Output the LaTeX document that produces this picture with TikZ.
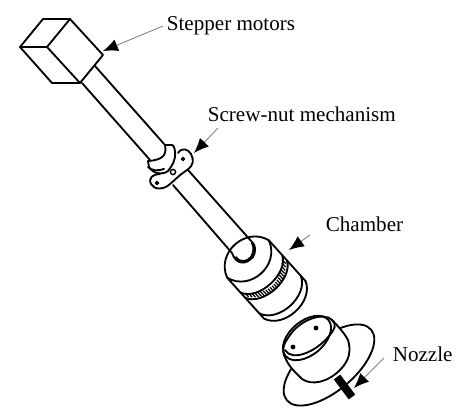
\documentclass[tikz,border=0pt]{standalone}
\usepackage{fontspec}
\setmainfont{Liberation Serif}
\usetikzlibrary{arrows.meta}
\tikzset{
	part/.style={line width=1.05pt, black, line join=round, line cap=round},
	thin part/.style={line width=0.8pt, black},
	callout/.style={-{Latex[length=8.5pt,width=7pt,black]}, gray, line width=0.5pt},
	label text/.style={font=\fontsize{12}{14}\selectfont, inner sep=2pt, anchor=west},
}
\begin{document}
\begin{tikzpicture}[x=0.02cm, y=-0.02cm]
	\useasboundingbox (0,0) rectangle (474,416);

	% Motor housing
	\draw[part] (20,47) -- (43,19) -- (70,19) -- (47,47) -- cycle;
	\draw[part] (47,47) -- (80,83) -- (103,55) -- (70,19);
	\draw[part] (20,47) -- (52,83) -- (80,83);

	% Upper shaft
	\draw[part] (95,66) -- (165,145);
	\draw[part] (82,83) -- (150,160);

	% Nut plate
	\draw[part] (178,153) .. controls (182,147) and (188,149) .. (191,154)
		.. controls (194,160) and (194,165) .. (187,170)
		.. controls (178,176) and (174,181) .. (170,184)
		.. controls (164,190) and (154,190) .. (151,184)
		.. controls (148,178) and (153,174) .. (160,174);
	\filldraw[black] (183,159) circle (1.8);
	\filldraw[black] (157,183) circle (1.8);
	\draw[thin part] (173,172) circle (2.6);

	% Collar on the screw
	\draw[part] (165,145) .. controls (167,155) and (163,160) .. (148,161);
	\draw[part] (148,161) -- (149,167) .. controls (153,174) and (163,175) .. (168,171)
		.. controls (172,166) and (176,160) .. (175,152)
		.. controls (175,148) and (173,144) .. (171,145) -- (165,145);
	\draw[part] (148,167) .. controls (152,171) and (158,171) .. (164,169);

	% Lower shaft
	\draw[part] (188,170) -- (252,242);
	\draw[part] (173,185) -- (232,253);

	% Chamber
	\begin{scope}[shift={(248,259)}, rotate=42]
		\draw[part] (-28,0) .. controls (-20,-26) and (20,-26) .. (28,0)
			.. controls (20,26) and (-20,26) .. (-28,0) -- cycle;
		\draw[part] (-28,0) -- (-28,55);
		\draw[part] (28,0) -- (28,55);
		\draw[part] (-28,20) .. controls (-20,38) and (20,38) .. (28,20);
		\draw[part] (-28,27) .. controls (-20,45) and (20,45) .. (28,27);
		\draw[part] (-28,48) .. controls (-20,68) and (20,68) .. (28,48);
		\draw[part] (-28,55) .. controls (-20,76) and (20,76) .. (28,55);
		% knurled band
		\foreach \t in {-25,-22.5,...,25}
			\draw[line width=0.7pt] (\t,{20+16*(1-(\t/28)*(\t/28))}) -- ++(0,5.5);
	\end{scope}

	% End of the shaft in the chamber
	\draw[part, fill=white] (232,253) .. controls (236,265) and (246,265) .. (253,257)
		.. controls (256,252) and (256,245) .. (252,242);
	\draw[part] (236,257) .. controls (240,263) and (247,262) .. (251,257)
		.. controls (254,252) and (254,247) .. (252,243);

	% Nozzle flange
	\draw[part, fill=white] (329,365) ellipse[x radius=55, y radius=26, rotate=40];

	% Nozzle body
	\draw[part, fill=white] (284,355) .. controls (288,366) and (295,372) .. (302,379)
		.. controls (312,386) and (328,382) .. (340,370)
		.. controls (350,360) and (351,350) .. (348,340)
		.. controls (345,334) and (338,326) .. (332,320)
		.. controls (325,312) and (300,318) .. (288,338)
		.. controls (282,346) and (283,352) .. (284,355);
	\draw[part] (307,338) ellipse[x radius=28, y radius=17, rotate=40];
	\draw[part] (285,350) .. controls (292,362) and (316,352) .. (329,336)
		.. controls (335,329) and (337,325) .. (332,320);
	\filldraw[black] (316,328) circle (2);
	\filldraw[black] (293,347) circle (2);

	% Outlet
	\draw[line width=4.6pt, black] (337,377) -- (352,397);

	% Labels
	\node[label text] (motorlabel) at (163,26) {Stepper motors};
	\node[label text] (screwlabel) at (204,114) {Screw-nut mechanism};
	\node[label text] (chamberlabel) at (322,224) {Chamber};
	\node[label text] (nozzlelabel) at (389,354) {Nozzle};

	\coordinate (motortip) at (103,51);
	\coordinate (screwtip) at (194,153);
	\coordinate (chambertip) at (289,250);
	\coordinate (nozzletip) at (354,388);
	\coordinate (screwtail) at (218,128);
	\coordinate (chambertail) at (310,235);
	\coordinate (nozzletail) at (384,358);

	\draw[callout] (motorlabel.west) -- (motortip);
	\draw[callout] (screwtail) -- (screwtip);
	\draw[callout] (chambertail) -- (chambertip);
	\draw[callout] (nozzletail) -- (nozzletip);
\end{tikzpicture}
\end{document}
